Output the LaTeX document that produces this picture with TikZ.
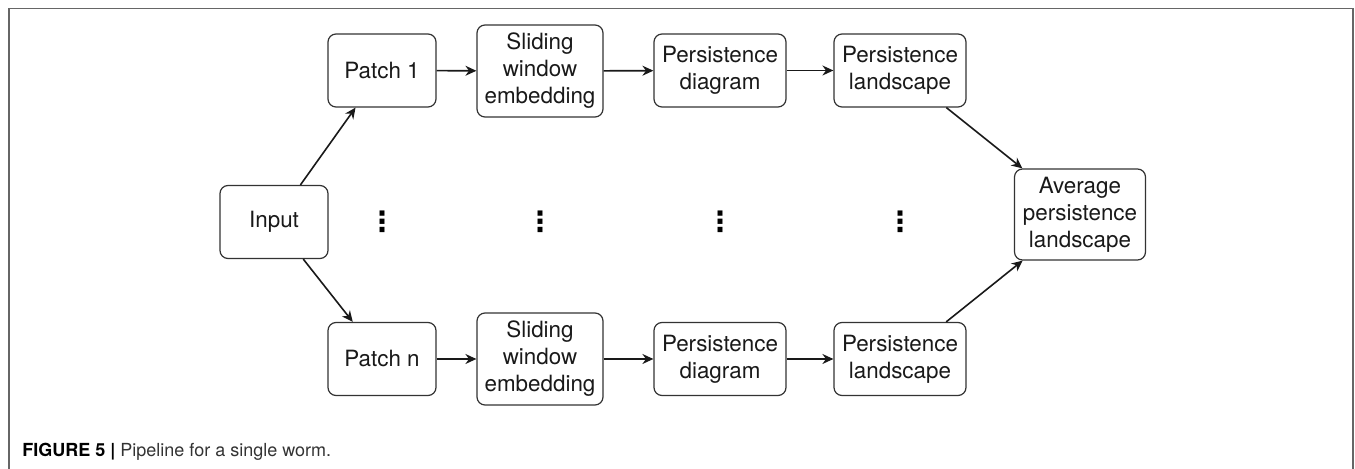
\documentclass[tikz,border=0pt]{standalone}
\usepackage{fontspec}
\setmainfont{TeX Gyre Heros}
\newfontfamily\dotsfont{DejaVu Sans}
\usetikzlibrary{arrows.meta}
\begin{document}
\begin{tikzpicture}[x=0.5pt,y=-0.5pt,
  box/.style={draw=black!80, line width=0.6pt, rounded corners=4pt, align=center,
    inner sep=0pt, font=\fontsize{11.2}{13.5}\selectfont, text=black!90},
  smallbox/.style={box, minimum width=54pt, minimum height=36.5pt},
  widebox/.style={box, minimum width=66pt, minimum height=36.5pt},
  slidebox/.style={box, minimum width=63pt, minimum height=46pt},
  arr/.style={-{Stealth[length=5.5pt,width=5pt,inset=1.8pt]}, line width=0.8pt, draw=black!90},
  dots/.style={inner sep=0pt, font=\dotsfont\bfseries\fontsize{14}{14}\selectfont}
]
\useasboundingbox (0,0) rectangle (1355,469);
\draw[line width=0.8pt, draw=black!60] (9,470) -- (9,8.5) -- (1353,8.5) -- (1353,470);

\node[smallbox] (input) at (274,222) {Input};
\node[smallbox] (p1) at (382,70.5) {Patch 1};
\node[slidebox] (s1) at (540,71) {Sliding\\window\\embedding};
\node[widebox] (d1) at (720,70.5) {Persistence\\diagram};
\node[widebox] (l1) at (900,70.5) {Persistence\\landscape};
\node[smallbox] (pn) at (382,359) {Patch n};
\node[slidebox] (sn) at (540,359) {Sliding\\window\\embedding};
\node[widebox] (dn) at (720,359) {Persistence\\diagram};
\node[widebox] (ln) at (900,359) {Persistence\\landscape};
\node[box, minimum width=65.5pt, minimum height=45.5pt] (avg) at (1080,214.5) {Average\\persistence\\landscape};

\node[dots] (v1) at (382,222) {⋮};
\node[dots] (v2) at (540,222) {⋮};
\node[dots] (v3) at (720,222) {⋮};
\node[dots] (v4) at (900,222) {⋮};

\draw[arr] (input) -- (p1);
\draw[arr] (input) -- (pn);
\draw[arr] (p1) -- (s1);
\draw[arr] (s1) -- (d1);
\draw[arr] (d1) -- (l1);
\draw[arr] (pn) -- (sn);
\draw[arr] (sn) -- (dn);
\draw[arr] (dn) -- (ln);
\draw[arr] (l1) -- (avg);
\draw[arr] (ln) -- (avg);

\node[anchor=base west, inner sep=0pt, font=\fontsize{9}{11}\selectfont, text=black!80] (cap) at (22,457)
  {\textcolor{black}{\bfseries FIGURE 5 |} Pipeline for a single worm.};
\end{tikzpicture}
\end{document}
